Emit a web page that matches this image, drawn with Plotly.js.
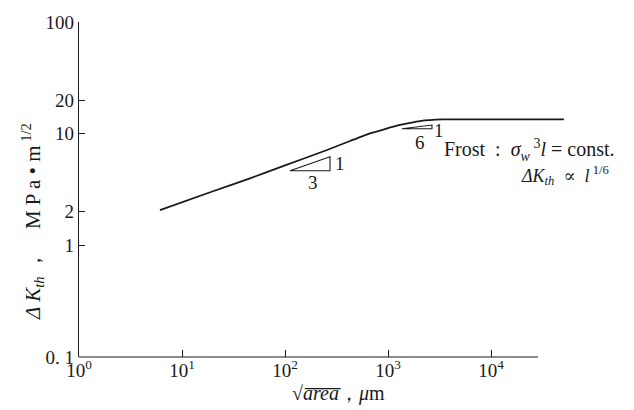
<!DOCTYPE html>
<html>
<head>
<meta charset="utf-8">
<script src="https://cdn.plot.ly/plotly-3.0.1.min.js"></script>
<style>html,body{margin:0;padding:0;background:#fff;}#chart{width:634px;height:410px;}</style>
</head>
<body>
<div id="chart"></div>
<script>
// Data (sqrt(area) in µm, ΔKth in MPa·m^1/2)
const sqrtArea = [6.1, 20, 45.7, 100, 256, 428, 668, 935, 1309, 2047, 3420, 12000, 51000];
const dKth     = [2.07, 3.05, 3.98, 5.2, 7.14, 8.6, 10.07, 11.0, 11.96, 12.98, 13.4, 13.4, 13.4];

const xTickVals = [1, 10, 100, 1000, 10000];
const xTickText = ['10<sup>0</sup>', '10<sup>1</sup>', '10<sup>2</sup>', '10<sup>3</sup>', '10<sup>4</sup>'];
const yTickVals = [0.1, 1, 2, 10, 20, 100];
const yTickText = ['0. 1', '1', '2', '10', '20', '100'];

const FONT = 'Liberation Serif, DejaVu Serif, serif';
const INK = '#1a1a1a';

// layout geometry helpers (pixel -> paper)
const L = 79, T = 22, W = 491, H = 335;
const px = x => (x - L) / W;
const py = y => (T + H - y) / H;

const trace = {
  x: sqrtArea, y: dKth, type: 'scatter', mode: 'lines',
  line: {color: INK, width: 1.8, shape: 'spline', smoothing: 0.35},
  hoverinfo: 'skip', showlegend: false
};

const layout = {
  width: 634, height: 410,
  margin: {l: L, r: 634 - L - W, t: T, b: 410 - T - H},
  paper_bgcolor: '#fff', plot_bgcolor: '#fff',
  font: {family: FONT, color: INK, size: 14},
  showlegend: false,
  xaxis: {
    type: 'log', range: [0, W / 103], showgrid: false, zeroline: false, showline: false,
    tickmode: 'array', tickvals: xTickVals, ticktext: xTickText,
    ticks: 'inside', ticklen: 7, tickwidth: 1, tickcolor: INK,
    tickfont: {family: FONT, size: 19, color: INK}
  },
  yaxis: {
    type: 'log', range: [-1, 2], showgrid: false, zeroline: false,
    showline: true, linecolor: INK, linewidth: 1.2,
    tickmode: 'array', tickvals: yTickVals, ticktext: yTickText,
    ticks: 'inside', ticklen: 6, tickwidth: 1, tickcolor: INK,
    tickfont: {family: FONT, size: 19, color: INK}
  },
  shapes: [
    // x axis line (ends before curve end, as in reference)
    {type: 'line', xref: 'paper', yref: 'paper', x0: 0, x1: px(538), y0: 0, y1: 0,
     line: {color: INK, width: 1.2}},
    // slope triangle 1:3
    {type: 'path', xref: 'paper', yref: 'paper',
     path: `M ${px(290)} ${py(170.7)} L ${px(330)} ${py(156.7)} L ${px(330)} ${py(170.7)} Z`,
     line: {color: INK, width: 1.1}},
    // slope triangle 1:6
    {type: 'path', xref: 'paper', yref: 'paper',
     path: `M ${px(402)} ${py(128.8)} L ${px(432)} ${py(125)} L ${px(432)} ${py(128.8)} Z`,
     line: {color: INK, width: 1.1}}
  ],
  annotations: [
    {xref: 'paper', yref: 'paper', x: px(340), y: py(163), text: '1', showarrow: false,
     xanchor: 'center', yanchor: 'middle', font: {size: 19}},
    {xref: 'paper', yref: 'paper', x: px(313), y: py(182), text: '3', showarrow: false,
     xanchor: 'center', yanchor: 'middle', font: {size: 19}},
    {xref: 'paper', yref: 'paper', x: px(439), y: py(130), text: '1', showarrow: false,
     xanchor: 'center', yanchor: 'middle', font: {size: 19}},
    {xref: 'paper', yref: 'paper', x: px(420), y: py(142), text: '6', showarrow: false,
     xanchor: 'center', yanchor: 'middle', font: {size: 19}},
    {xref: 'paper', yref: 'paper', x: px(442), y: py(150), showarrow: false,
     xanchor: 'left', yanchor: 'middle', font: {size: 20},
     text: 'Frost  :  <i>σ</i><sub><i>w</i></sub><sup> 3</sup><i>l</i> = const.'},
    {xref: 'paper', yref: 'paper', x: px(519), y: py(175), showarrow: false,
     xanchor: 'left', yanchor: 'middle', font: {size: 18},
     text: '<i>ΔK<sub>th</sub></i>  ∝  <i>l</i><sup> 1/6</sup>'},
    // axis titles
    {xref: 'paper', yref: 'paper', x: px(338), y: py(393), showarrow: false,
     xanchor: 'center', yanchor: 'middle', font: {size: 20},
     text: '√<i>a\u0305r\u0305e\u0305a\u0305</i>，<i>μ</i>m'},
    {xref: 'paper', yref: 'paper', x: px(33), y: py(222), showarrow: false, textangle: -90,
     xanchor: 'center', yanchor: 'middle', font: {size: 21},
     text: '<i>Δ K<sub>th</sub></i> ，    M P a • m<sup> 1/2</sup>'}
  ]
};

Plotly.newPlot('chart', [trace], layout, {displayModeBar: false, staticPlot: true});
</script>
</body>
</html>
